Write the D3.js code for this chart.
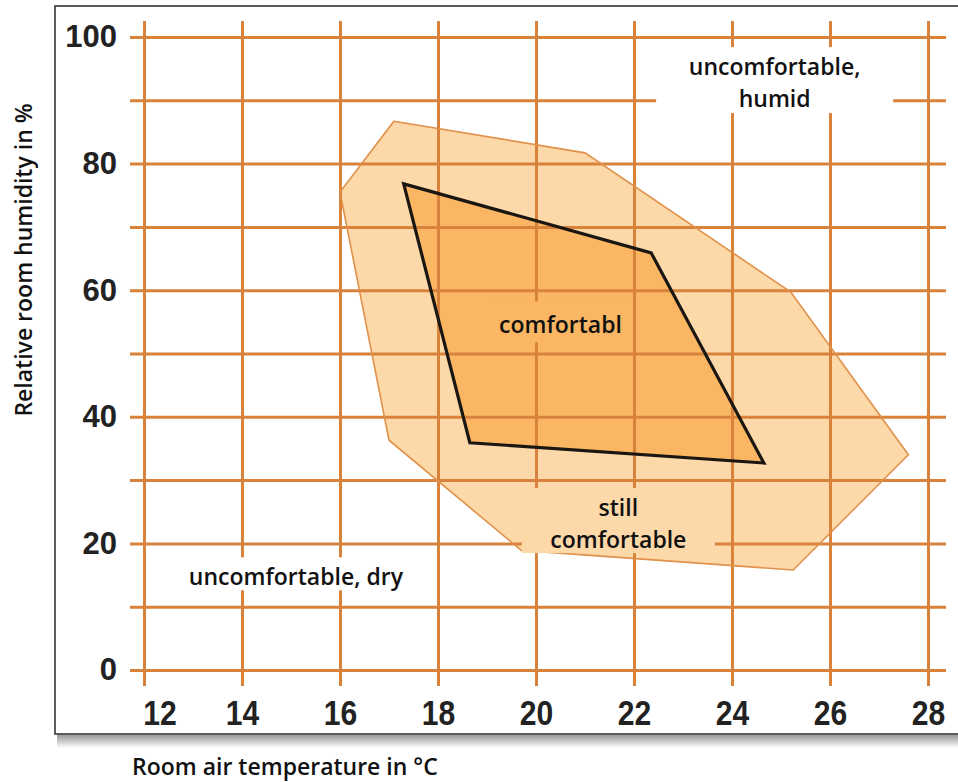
<!DOCTYPE html>
<html>
<head>
<meta charset="utf-8">
<script src="https://cdn.jsdelivr.net/npm/d3@7"></script>
<style>
	body { margin: 0; background: #fff; }
	svg { display: block; }
</style>
</head>
<body>
<div id="chart"></div>
<script>
// axis ticks
var temp_ticks = [12, 14, 16, 18, 20, 22, 24, 26, 28];
var hum_ticks = [0, 10, 20, 30, 40, 50, 60, 70, 80, 90, 100];

// "still comfortable" zone outline (temperature in C, humidity in %)
var outer_temp = [17.1, 21.0, 25.2, 27.6, 25.25, 19.7, 17.0, 16.0];
var outer_hum  = [86.7, 81.7, 59.7, 34.0, 15.8, 18.9, 36.3, 75.5];

// "comfortable" zone outline
var inner_temp = [17.3, 22.35, 24.65, 18.65];
var inner_hum  = [76.8, 65.9, 32.7, 35.9];

var zone_names = [
	['uncomfortable,', 'humid'],
	['comfortabl'],
	['still', 'comfortable'],
	['uncomfortable, dry']
];
var zone_temp = [24.87, 20.5, 21.68, 15.1];
var zone_hum  = [93.2, 55.0, 23.6, 15.2];

var chart_width = 958;
var chart_height = 782;

var grid_color = '#d8823c';
var outer_fill = '#fdd8a9';
var inner_fill = '#fbb663';
var label_font = '"Open Sans", sans-serif';

var svg = d3.select('#chart')
	.append('svg')
	.attr('width', chart_width)
	.attr('height', chart_height);

// scales
var x_scale = d3.scaleLinear()
	.domain([12, 28])
	.range([144, 928]);

var y_scale = d3.scaleLinear()
	.domain([0, 100])
	.range([670, 37]);

// frame with a shadow under it
var defs = svg.append('defs');
var grad = defs.append('linearGradient')
	.attr('id', 'shadow')
	.attr('x1', 0).attr('y1', 0)
	.attr('x2', 0).attr('y2', 1);
grad.append('stop').attr('offset', '0%').attr('stop-color', '#9a9a9a');
grad.append('stop').attr('offset', '100%').attr('stop-color', '#ffffff');

svg.append('rect')
	.attr('x', 57)
	.attr('y', 735)
	.attr('width', chart_width)
	.attr('height', 13)
	.attr('fill', 'url(#shadow)');

svg.append('rect')
	.attr('x', 55)
	.attr('y', 6)
	.attr('width', chart_width)
	.attr('height', 728)
	.attr('fill', '#fff')
	.attr('stroke', '#333')
	.attr('stroke-width', 1.6);

function zone_points(temps, hums){
	return temps.map(function(t, i){
		return [ x_scale(t), y_scale(hums[i]) ];
	});
}

var line = d3.line().curve(d3.curveLinearClosed);

// zone fills
svg.append('path')
	.attr('d', line(zone_points(outer_temp, outer_hum)))
	.attr('fill', outer_fill);

svg.append('path')
	.attr('d', line(zone_points(inner_temp, inner_hum)))
	.attr('fill', inner_fill);

// grid via axes
var x_axis = d3.axisBottom(x_scale)
	.tickValues(temp_ticks)
	.tickSize(-(686 - 21))
	.tickPadding(14);

var x_g = svg.append('g')
	.attr('class', 'x-axis')
	.attr('transform', 'translate(0,686)')
	.call(x_axis);

var y_axis = d3.axisLeft(y_scale)
	.tickValues(hum_ticks)
	.tickSize(-(946 - 130))
	.tickPadding(13)
	.tickFormat(function(d){
		return d % 20 === 0 ? d : '';
	});

var y_g = svg.append('g')
	.attr('class', 'y-axis')
	.attr('transform', 'translate(130,0)')
	.call(y_axis);

[x_g, y_g].forEach(function(g){
	g.select('.domain').remove();
	g.selectAll('line')
		.attr('stroke', grid_color)
		.attr('stroke-width', 3);
	g.selectAll('text')
		.attr('fill', '#222')
		.style('font-family', '"Liberation Sans", Arial, sans-serif')
		.style('font-weight', 'bold');
});

x_g.selectAll('text')
	.style('font-size', '35px')
	.attr('transform', 'scale(0.86,1)')
	.attr('dx', function(d){ return d === 12 ? 18 : 0; });

y_g.selectAll('text')
	.style('font-size', '31px');

// zone outlines
svg.append('path')
	.attr('d', line(zone_points(outer_temp, outer_hum)))
	.attr('fill', 'none')
	.attr('stroke', '#e0914a')
	.attr('stroke-width', 1.6);

svg.append('path')
	.attr('d', line(zone_points(inner_temp, inner_hum)))
	.attr('fill', 'none')
	.attr('stroke', '#1a1612')
	.attr('stroke-width', 3.2)
	.attr('stroke-linejoin', 'miter');

// zone labels on boxes that hide the grid
var box_size = [[237, 66], [140, 41], [193, 65], [236, 33]];
var box_fill = ['#fff', inner_fill, outer_fill, '#fff'];

var labels = svg.selectAll('g.zone')
	.data(zone_names)
	.enter()
	.append('g')
	.attr('class', 'zone')
	.attr('transform', function(d, i){
		return 'translate(' + x_scale(zone_temp[i]) + ',' + y_scale(zone_hum[i]) + ')';
	});

labels.append('rect')
	.attr('x', function(d, i){ return -box_size[i][0] / 2; })
	.attr('y', function(d, i){ return -box_size[i][1] / 2; })
	.attr('width', function(d, i){ return box_size[i][0]; })
	.attr('height', function(d, i){ return box_size[i][1]; })
	.attr('fill', function(d, i){ return box_fill[i]; });

labels.each(function(d){
	var g = d3.select(this);
	d.forEach(function(txt, j){
		g.append('text')
			.attr('x', 0)
			.attr('y', 11 + (j - (d.length - 1) / 2) * 32)
			.attr('text-anchor', 'middle')
			.attr('fill', '#111')
			.style('font-family', label_font)
			.style('font-weight', 600)
			.style('font-size', '23px')
			.text(txt);
	});
});

// axis titles
svg.append('text')
	.attr('x', 132)
	.attr('y', 775)
	.attr('fill', '#111')
	.style('font-family', label_font)
	.style('font-weight', 600)
	.style('font-size', '23px')
	.text('Room air temperature in °C');

svg.append('text')
	.attr('transform', 'translate(32,260) rotate(-90)')
	.attr('text-anchor', 'middle')
	.attr('fill', '#111')
	.style('font-family', label_font)
	.style('font-weight', 600)
	.style('font-size', '23px')
	.text('Relative room humidity in %');
</script>
</body>
</html>
